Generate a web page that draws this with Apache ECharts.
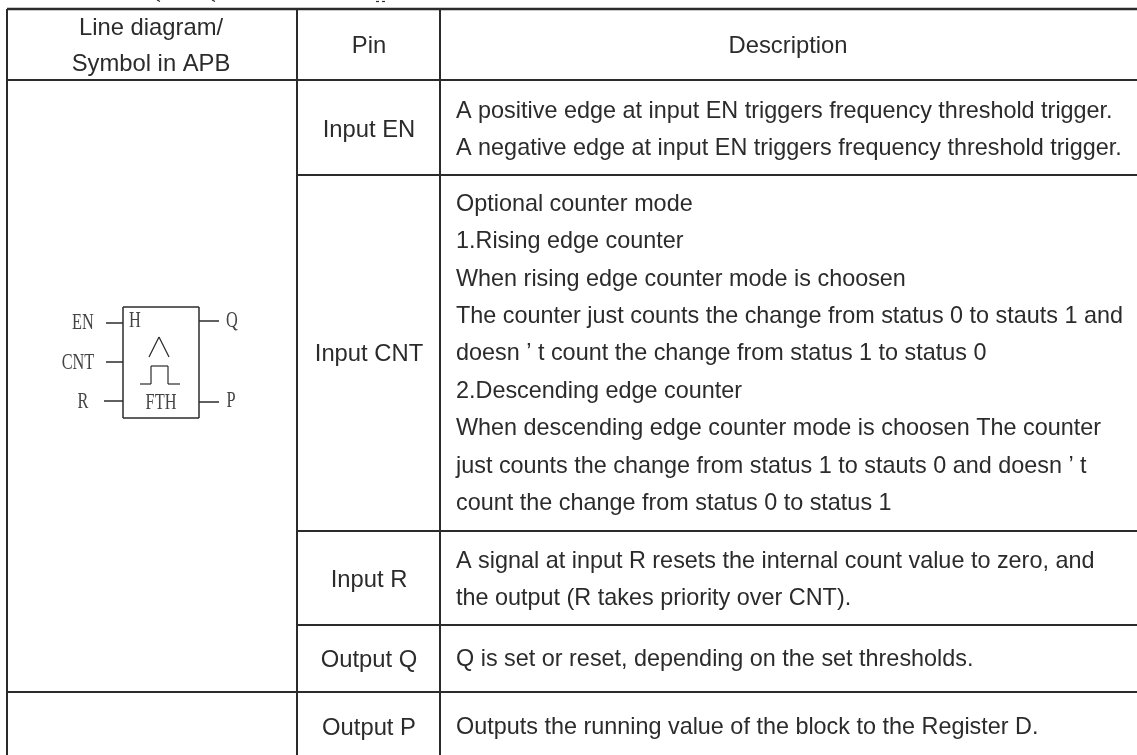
<!DOCTYPE html>
<html>
<head>
<meta charset="utf-8">
<title>Frequency threshold trigger</title>
<script src="https://cdn.jsdelivr.net/npm/echarts@6/dist/echarts.min.js"></script>
<style>
  html, body { margin: 0; padding: 0; background: #fff; }
  #main { width: 1137px; height: 755px; }
</style>
</head>
<body>
<div id="main"></div>
<script>
// table text
var headerCells = ["Line diagram/\nSymbol in APB", "Pin", "Description"];
var pinNames = ["Input EN", "Input CNT", "Input R", "Output Q", "Output P"];
var enLines = [
  "A positive edge at input EN triggers frequency threshold trigger.",
  "A negative edge at input EN triggers frequency threshold trigger."
];
var cntLines = [
  "Optional counter mode",
  "1.Rising edge counter",
  "When rising edge counter mode is choosen",
  "The counter just counts the change from status 0 to stauts 1 and",
  "doesn \u2019 t count the change from status 1 to status 0",
  "2.Descending edge counter",
  "When descending edge counter mode is choosen The counter",
  "just counts the change from status 1 to stauts 0 and doesn \u2019 t",
  "count the change from status 0 to status 1"
];
var rLines = [
  "A signal at input R resets the internal count value to zero, and",
  "the output (R takes priority over CNT)."
];
var qLines = ["Q is set or reset, depending on the set thresholds."];
var pLines = ["Outputs the running value of the block to the Register D."];
var symbolName = "FTH";
var symbolInputs = ["EN", "CNT", "R"];
var symbolOutputs = ["Q", "P"];

// table layout, in page pixels (the axes below run 1:1 with the page)
var colEdges = [7, 297, 440, 1137];
var rowEdges = [9, 80, 175, 531, 625, 692, 755];
var rowMids = [130, 354, 580, 660, 728];

var W = 1137, H = 755;
var SANS = '"Liberation Sans", Arial, sans-serif';
var SERIF = '"Liberation Serif", serif';
var INK = "#2b2b2b";
var FONTS = { sans: "23.8px " + SANS, desc: "23.4px " + SANS, serif: "24px " + SERIF };

var rules = [];      // [x1, y1, x2, y2, width]
var texts = [];      // [x, y, text, fontKind, align]

function rule(x1, y1, x2, y2, w) { rules.push([x1, y1, x2, y2, w]); }
function text(x, y, s, kind, align) { texts.push([x, y, s, kind, align || "center"]); }

// horizontal rules: the pin and description columns get all of them, the symbol cell spans rows 2-5
rule(colEdges[0], rowEdges[0], W, rowEdges[0], 2.5);
rule(colEdges[0], rowEdges[1], W, rowEdges[1], 2);
rule(colEdges[1], rowEdges[2], W, rowEdges[2], 2);
rule(colEdges[1], rowEdges[3], W, rowEdges[3], 2);
rule(colEdges[1], rowEdges[4], W, rowEdges[4], 2);
rule(colEdges[0], rowEdges[5], W, rowEdges[5], 2);
// vertical rules
rule(colEdges[0], rowEdges[0], colEdges[0], H, 2);
rule(colEdges[1], rowEdges[0], colEdges[1], H, 2);
rule(colEdges[2], rowEdges[0], colEdges[2], H, 2);

// what is left of the caption above the table: cut-off descenders at the page top
rule(157, 0, 160, 1.5, 1.2);
rule(212, 0, 215, 1.5, 1.2);
rule(376, 1.5, 379, 1.5, 1.2);
rule(382, 1.5, 385, 1.5, 1.2);

// header
text(151, 28, headerCells[0].split("\n")[0], "sans");
text(151, 64, headerCells[0].split("\n")[1], "sans");
text(369, 46, headerCells[1], "sans");
text(788, 46, headerCells[2], "sans");

// body rows
var descRows = [enLines, cntLines, rLines, qLines, pLines];
var leading = 37.4;
descRows.forEach(function (lines, i) {
  var mid = rowMids[i];
  text(369, mid, pinNames[i], "sans");
  lines.forEach(function (s, j) {
    text(456, mid + (j - (lines.length - 1) / 2) * leading, s, "desc", "left");
  });
});

// block symbol
var box = { l: 123, r: 199, t: 307, b: 418 };
rule(box.l, box.t, box.r, box.t, 1.5);
rule(box.l, box.b, box.r, box.b, 1.5);
rule(box.l, box.t, box.l, box.b, 1.5);
rule(box.r, box.t, box.r, box.b, 1.5);
rule(106, 323, box.l, 323, 1.5);
rule(106, 362, box.l, 362, 1.5);
rule(104, 401, box.l, 401, 1.5);
rule(box.r, 321, 219, 321, 1.5);
rule(box.r, 402, 219, 402, 1.5);
// edge mark
rule(149, 357, 159, 337, 1.2);
rule(159, 337, 169, 357, 1.2);
// pulse
rule(140, 384, 151, 384, 1.2);
rule(151, 384, 151, 366, 1.2);
rule(151, 366, 168, 366, 1.2);
rule(168, 366, 168, 384, 1.2);
rule(168, 384, 180, 384, 1.2);

text(83, 323, symbolInputs[0], "serif");
text(78, 363, symbolInputs[1], "serif");
text(83, 402, symbolInputs[2], "serif");
text(232, 321, symbolOutputs[0], "serif");
text(231, 401, symbolOutputs[1], "serif");
text(129, 321, "H", "serif", "left");
text(161, 403, symbolName, "serif");

var chart = echarts.init(document.getElementById("main"));
chart.setOption({
  animation: false,
  backgroundColor: "#fff",
  grid: { left: 0, right: 0, top: 0, bottom: 0 },
  xAxis: { type: "value", min: 0, max: W, show: false },
  yAxis: { type: "value", min: 0, max: H, inverse: true, show: false },
  series: [
    {
      name: "rules",
      type: "custom",
      coordinateSystem: "cartesian2d",
      clip: false,
      silent: true,
      data: rules,
      encode: { x: [0, 2], y: [1, 3] },
      renderItem: function (params, api) {
        var a = api.coord([api.value(0), api.value(1)]);
        var b = api.coord([api.value(2), api.value(3)]);
        return {
          type: "line",
          shape: { x1: a[0], y1: a[1], x2: b[0], y2: b[1] },
          style: { stroke: INK, lineWidth: api.value(4), fill: null }
        };
      }
    },
    {
      name: "texts",
      type: "custom",
      coordinateSystem: "cartesian2d",
      clip: false,
      silent: true,
      data: texts,
      dimensions: [
        { name: "x", type: "number" },
        { name: "y", type: "number" },
        { name: "s", type: "ordinal" },
        { name: "kind", type: "ordinal" },
        { name: "align", type: "ordinal" }
      ],
      encode: { x: 0, y: 1 },
      renderItem: function (params, api) {
        var d = texts[params.dataIndex];
        var p = api.coord([d[0], d[1]]);
        var isSerif = d[3] === "serif";
        return {
          type: "text",
          x: p[0],
          y: p[1],
          scaleX: isSerif ? 0.68 : 1,
          style: {
            text: d[2],
            x: 0,
            y: 0,
            align: d[4],
            verticalAlign: "middle",
            fill: isSerif ? "#444" : INK,
            font: FONTS[d[3]]
          }
        };
      }
    }
  ]
});
</script>
</body>
</html>
